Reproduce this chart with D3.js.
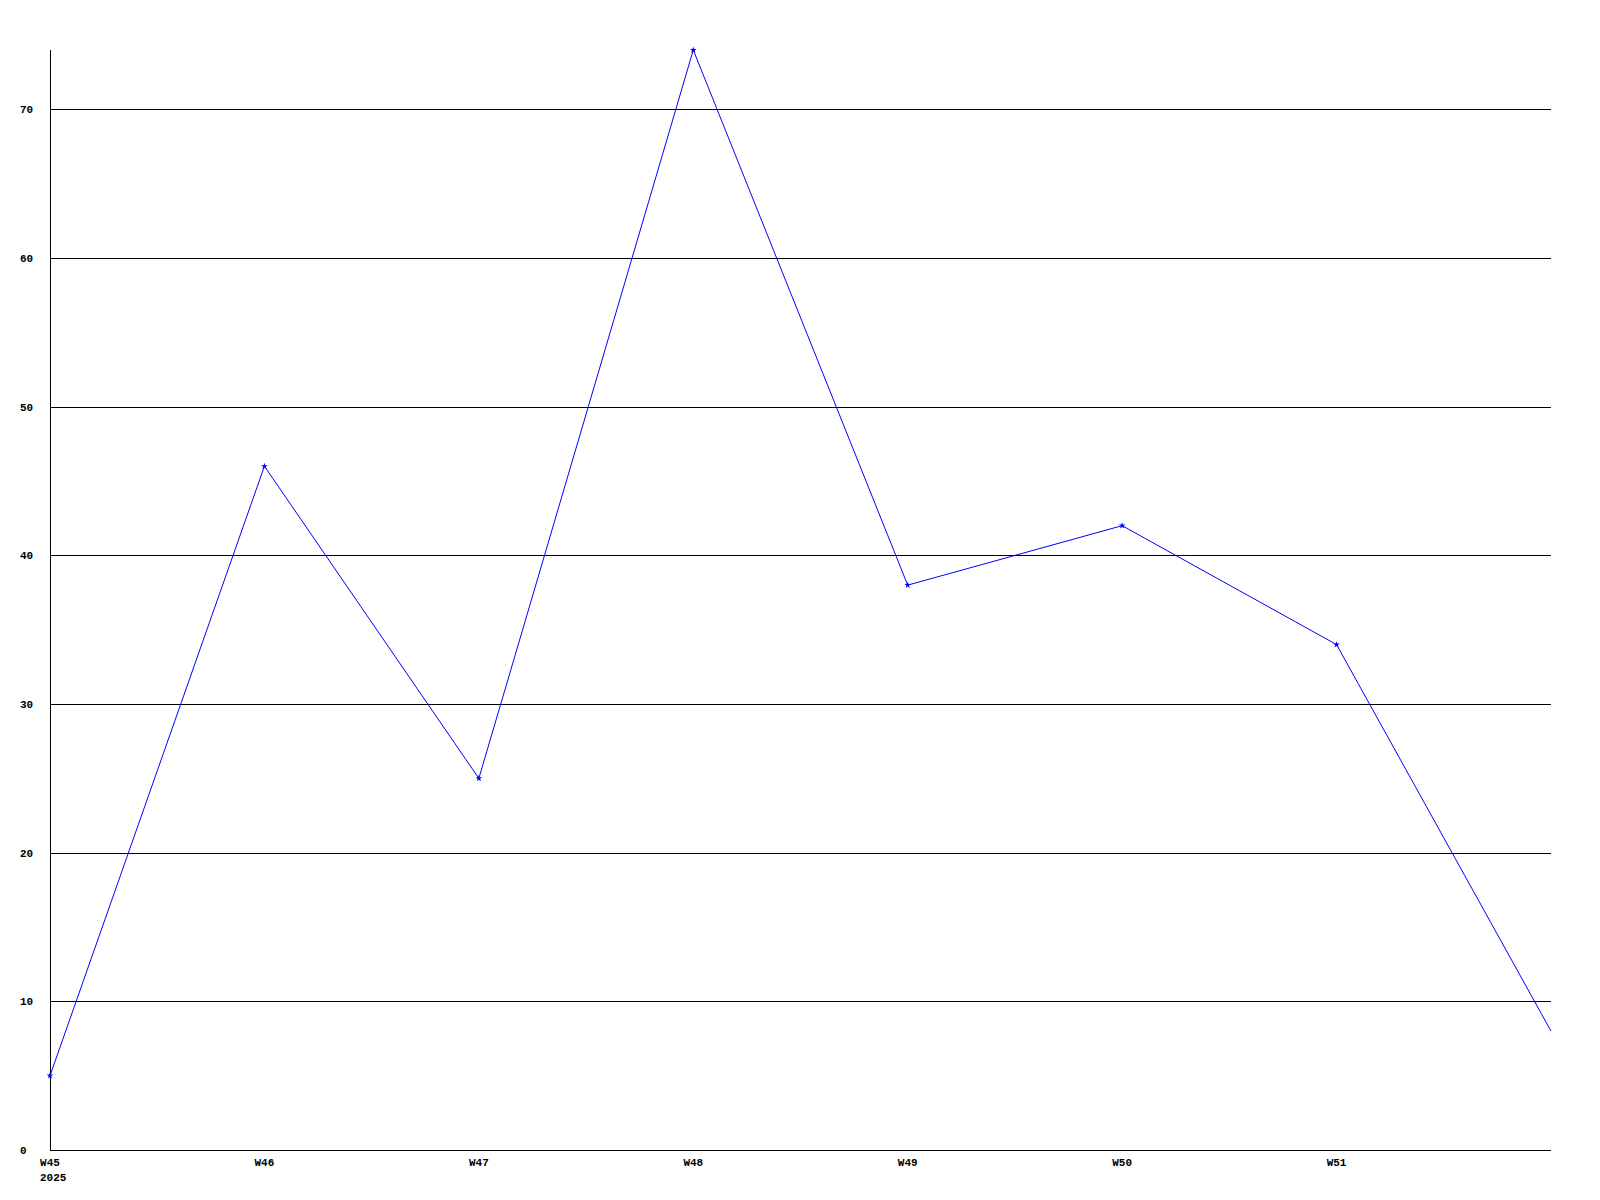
<!DOCTYPE html>
<html><head><meta charset="utf-8">
<script src="https://cdn.jsdelivr.net/npm/d3@7"></script>
<style>body{margin:0;background:#fff}svg{display:block}text{font-family:"Liberation Mono","DejaVu Sans Mono",monospace;font-weight:bold;font-size:11px;fill:#000}</style>
</head><body><svg id="c" width="1600" height="1200"></svg>
<script>
const weeks = ["W45","W46","W47","W48","W49","W50","W51","W52"];
const values = [5, 46, 25, 74, 38, 42, 34, 8];
const yTicks = [0,10,20,30,40,50,60,70];
const yearLabel = "2025";

const svg = d3.select("#c");
const x = d3.scaleLinear().domain([0, weeks.length-1]).range([50, 1551]);
const y = d3.scaleLinear().domain([0, 74]).range([1150, 50]);

// gridlines
svg.append("g").selectAll("line").data(yTicks.filter(d=>d>0)).join("line")
  .attr("x1", 50).attr("x2", 1551)
  .attr("y1", d=>Math.round(y(d))+0.5).attr("y2", d=>Math.round(y(d))+0.5)
  .attr("stroke","#000").attr("stroke-width",1).attr("shape-rendering","crispEdges");
// axes
svg.append("line").attr("x1",50.5).attr("x2",50.5).attr("y1",50).attr("y2",1150)
  .attr("stroke","#000").attr("shape-rendering","crispEdges");
svg.append("line").attr("x1",50).attr("x2",1551).attr("y1",1150.5).attr("y2",1150.5)
  .attr("stroke","#000").attr("shape-rendering","crispEdges");

// y labels
svg.append("g").selectAll("text").data(yTicks).join("text")
  .attr("x", 20).attr("y", d=>y(d)).attr("dy","0.35em").text(d=>d);

// x labels (W52 not shown)
svg.append("g").selectAll("text").data(weeks.slice(0,7)).join("text")
  .attr("x",(d,i)=>x(i)).attr("y",1166).attr("text-anchor","middle").text(d=>d);
svg.append("text").attr("x", x(0)-10).attr("y",1181).text(yearLabel);

// line
const line = d3.line().x((d,i)=>x(i)).y(d=>y(d));
svg.append("path").datum(values).attr("d", line)
  .attr("fill","none").attr("stroke","#0000ff").attr("stroke-width",1);
// markers
svg.append("g").selectAll("path").data(values.slice(0,7)).join("path")
  .attr("transform",(d,i)=>`translate(${x(i)},${y(d)})`)
  .attr("d", d3.symbol().type(d3.symbolStar).size(14))
  .attr("fill","#0000ff");
</script></body></html>
